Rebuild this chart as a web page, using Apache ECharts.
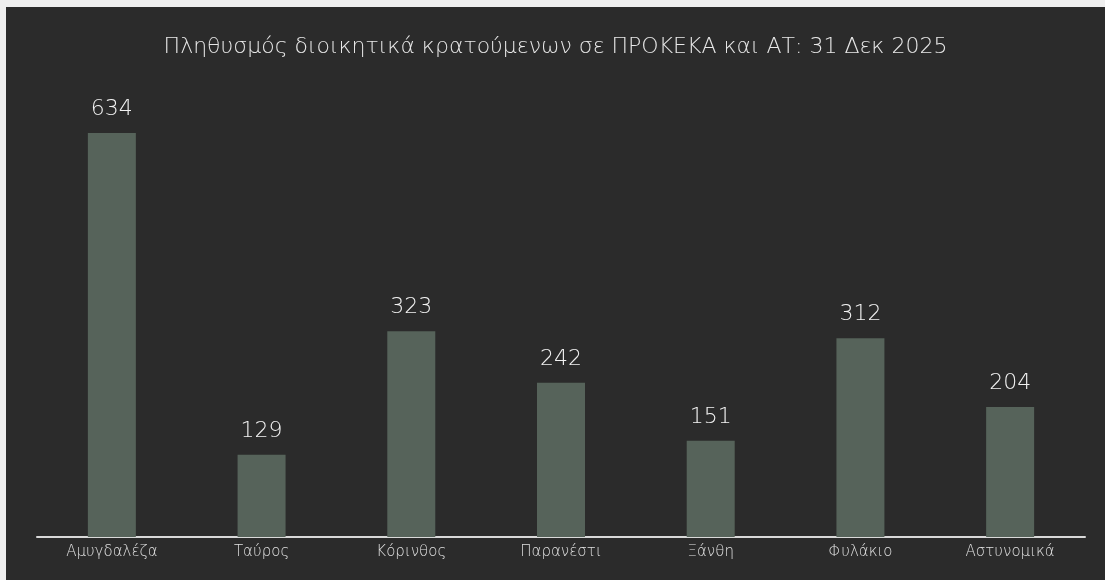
<!DOCTYPE html>
<html>
<head>
<meta charset="utf-8">
<script src="https://cdn.jsdelivr.net/npm/echarts@6/dist/echarts.min.js"></script>
<style>
  html, body { margin: 0; padding: 0; background: #efefef; }
  #chart { position: absolute; left: 6px; top: 7px; width: 1099px; height: 573px; }
</style>
</head>
<body>
<div id="chart"></div>
<script>
// Πληθυσμός ανά δομή
const categories = ["Αμυγδαλέζα", "Ταύρος", "Κόρινθος", "Παρανέστι", "Ξάνθη", "Φυλάκιο", "Αστυνομικά"];
const detainees = [634, 129, 323, 242, 151, 312, 204];

const chart = echarts.init(document.getElementById("chart"));
chart.setOption({
  backgroundColor: "#2b2b2b",
  animation: false,
  title: {
    text: "Πληθυσμός διοικητικά κρατούμενων σε ΠΡΟΚΕΚΑ και ΑΤ: 31 Δεκ 2025",
    left: "center",
    top: 24,
    textStyle: {
      color: "#e8e8e8",
      fontFamily: "DejaVu Sans",
      fontWeight: 200,
      fontSize: 22,
    },
  },
  grid: {
    left: 31,
    right: 20,
    top: 84,
    bottom: 43,
  },
  xAxis: {
    type: "category",
    data: categories,
    axisTick: { show: false },
    axisLine: { lineStyle: { color: "#d9d9d9", width: 2 } },
    axisLabel: {
      color: "#e0e0e0",
      fontFamily: "DejaVu Sans",
      fontWeight: 200,
      fontSize: 15,
      margin: 8,
    },
  },
  yAxis: {
    type: "value",
    min: 0,
    max: 700,
    show: false,
    splitLine: { show: false },
  },
  series: [
    {
      type: "bar",
      data: detainees,
      barWidth: 48,
      itemStyle: { color: "#56635a" },
      label: {
        show: true,
        position: "top",
        distance: 13,
        color: "#f2f2f2",
        fontFamily: "DejaVu Sans",
        fontWeight: 200,
        fontSize: 22,
      },
    },
  ],
});
</script>
</body>
</html>
